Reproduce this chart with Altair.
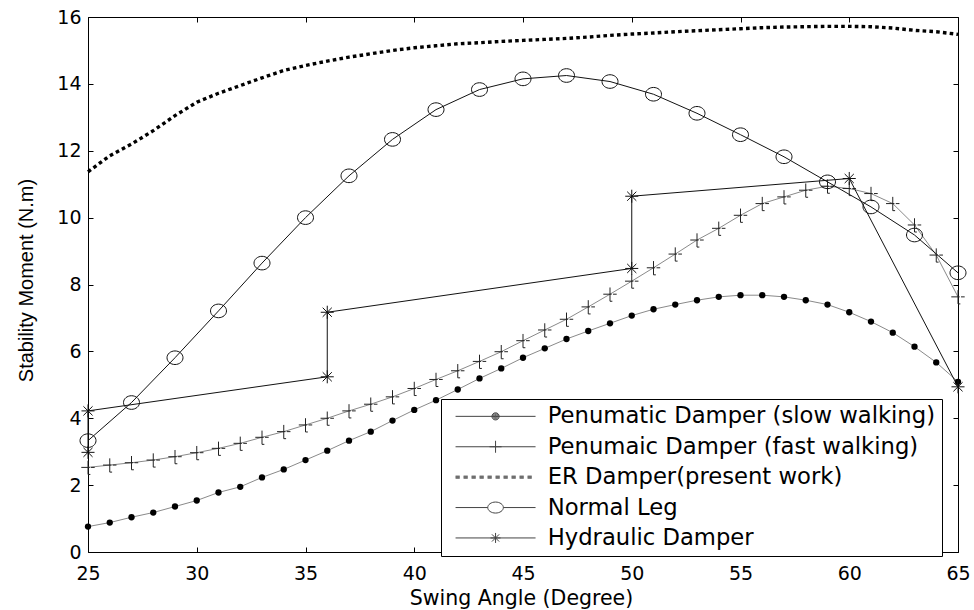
import altair as alt
import pandas as pd

# ---------------- data ----------------
angles = list(range(25, 66))
slow = [0.76, 0.88, 1.04, 1.18, 1.36, 1.54, 1.78, 1.95, 2.23, 2.47, 2.75, 3.03, 3.33, 3.60,
        3.93, 4.25, 4.54, 4.86, 5.19, 5.49, 5.81, 6.09, 6.37, 6.61, 6.84, 7.07, 7.26, 7.40,
        7.53, 7.63, 7.68, 7.68, 7.63, 7.53, 7.40, 7.17, 6.89, 6.56, 6.14, 5.67, 5.09]
fast = [2.53, 2.60, 2.67, 2.75, 2.85, 2.97, 3.10, 3.25, 3.43, 3.60, 3.80, 4.00, 4.22, 4.42,
        4.64, 4.89, 5.16, 5.42, 5.70, 5.99, 6.32, 6.64, 6.96, 7.33, 7.71, 8.10, 8.50, 8.91,
        9.33, 9.68, 10.07, 10.42, 10.62, 10.82, 10.94, 10.87, 10.72, 10.42, 9.78, 8.88, 7.63]
er = [11.37, 11.85, 12.20, 12.60, 13.05, 13.45, 13.72, 13.95, 14.18, 14.40, 14.55, 14.68,
      14.80, 14.90, 15.00, 15.08, 15.14, 15.20, 15.23, 15.27, 15.30, 15.33, 15.36, 15.40,
      15.45, 15.49, 15.52, 15.56, 15.59, 15.62, 15.65, 15.68, 15.70, 15.71, 15.72, 15.72,
      15.71, 15.67, 15.60, 15.56, 15.48]
normal_angles = list(range(25, 66, 2))
normal = [3.33, 4.47, 5.81, 7.21, 8.64, 10.00, 11.25, 12.34, 13.23, 13.83, 14.15, 14.25,
          14.07, 13.69, 13.12, 12.48, 11.82, 11.07, 10.32, 9.48, 8.35]
hyd_angles = [25, 25, 36, 36, 50, 50, 60, 65]
hyd = [2.98, 4.22, 5.24, 7.17, 8.48, 10.64, 11.17, 4.94]

series_names = ["Penumatic Damper (slow walking)", "Penumaic Damper (fast walking)",
                "ER Damper(present work)", "Normal Leg", "Hydraulic Damper"]
x_ticks = [25, 30, 35, 40, 45, 50, 55, 60, 65]
y_ticks = [0, 2, 4, 6, 8, 10, 12, 14, 16]

rows = []
for name, xs, ys in [(series_names[0], angles, slow), (series_names[1], angles, fast),
                     (series_names[2], angles, er), (series_names[3], normal_angles, normal),
                     (series_names[4], hyd_angles, hyd)]:
    for i, (a, v) in enumerate(zip(xs, ys)):
        rows.append({"angle": a, "moment": v, "series": name, "idx": i})
df = pd.DataFrame(rows)

# ---------------- symbol paths ----------------
def circ(cx, cy, rx, ry):
    return (f"M{cx - rx:.3f},{cy:.3f}a{rx:.3f},{ry:.3f} 0 1,0 {2 * rx:.3f},0"
            f"a{rx:.3f},{ry:.3f} 0 1,0 {-2 * rx:.3f},0")

ellipse_marker = circ(0, 0, 1, 0.85)
plus_marker = "M-1,0L0.25,0M0.45,0L1,0M0,-1L0,1.05L0.35,1.05"
star_marker = "M-1,0L1,0M0,-1L0,1M-0.7,-0.7L0.7,0.7M-0.7,0.7L0.7,-0.7"

L0, L1, MC = -0.28, 7.72, 3.72
base_line = f"M{L0},0L{L1},0"
lg_slow = base_line + "".join(circ(MC, 0, r, r) for r in [0.36, 0.27, 0.18, 0.09])
lg_fast = base_line + f"M{MC - 0.6:.2f},0L{MC + 0.6:.2f},0M{MC},-0.6L{MC},0.6"
lg_er = ""
for k in range(10):
    x0 = L0 + k * 0.8
    for yy in (-0.1, 0, 0.1):
        lg_er += f"M{x0:.2f},{yy}L{x0 + 0.42:.2f},{yy}"
lg_normal = f"M{L0},0L{MC - 0.78:.2f},0M{MC + 0.78:.2f},0L{L1},0" + circ(MC, 0, 0.78, 0.55)
lg_hyd = base_line + (f"M{MC - 0.5:.2f},0L{MC + 0.5:.2f},0M{MC},-0.5L{MC},0.5"
                      f"M{MC - 0.36:.2f},-0.36L{MC + 0.36:.2f},0.36M{MC - 0.36:.2f},0.36L{MC + 0.36:.2f},-0.36")
legend_paths = [lg_slow, lg_fast, lg_er, lg_normal, lg_hyd]

# ---------------- scales / axes ----------------
x_scale = alt.Scale(domain=[25, 65], nice=False, zero=False)
y_scale = alt.Scale(domain=[0, 16], nice=False, zero=False)

x_axis = alt.Axis(values=x_ticks, format="d", title="Swing Angle (Degree)", orient="bottom",
                  offset=-5, tickSize=5, domain=False, grid=False, tickColor="black",
                  labelFont="DejaVu Sans", labelFontSize=19, labelColor="black",
                  labelPadding=12.5, labelFlush=False, labelOverlap=False,
                  titleFont="DejaVu Sans", titleFontSize=20.5, titleFontWeight="normal",
                  titleColor="black", titleX=433, titleY=57, titleBaseline="alphabetic",
                  titleAlign="center")
y_axis = alt.Axis(values=y_ticks, format="d", title="Stability Moment (N.m)", orient="left",
                  offset=-5, tickSize=5, domain=False, grid=False, tickColor="black",
                  labelFont="DejaVu Sans", labelFontSize=19, labelColor="black",
                  labelPadding=7, labelFlush=False, labelOverlap=False,
                  titleFont="Liberation Sans", titleFontSize=20, titleFontWeight="normal",
                  titleColor="black", titleX=-67, titleY=263, titleBaseline="middle",
                  titleAlign="center", titleAngle=270)
top_axis = alt.Axis(values=x_ticks, orient="top", labels=False, title=None, offset=-5,
                    tickSize=5, domain=False, grid=False, tickColor="black")
right_axis = alt.Axis(values=y_ticks, orient="right", labels=False, title=None, offset=-5,
                      tickSize=5, domain=False, grid=False, tickColor="black")


def enc(xa=None, ya=None):
    return dict(
        x=alt.X("angle:Q", scale=x_scale, axis=xa),
        y=alt.Y("moment:Q", scale=y_scale, axis=ya),
    )


def sub(name):
    return alt.Chart(df).transform_filter(alt.datum.series == name)


layers = []
# lines
layers.append(sub(series_names[2]).mark_line(color="black", strokeWidth=3.4, strokeDash=[3.6, 3.2],
                                              strokeCap="butt").encode(order="idx:Q", **enc(x_axis, y_axis)))
layers.append(sub(series_names[0]).mark_line(color="#8a8a8a", strokeWidth=1).encode(order="idx:Q", **enc()))
layers.append(sub(series_names[1]).mark_line(color="#8a8a8a", strokeWidth=1).encode(order="idx:Q", **enc()))
layers.append(sub(series_names[3]).mark_line(color="#111111", strokeWidth=1).encode(order="idx:Q", **enc()))
layers.append(sub(series_names[4]).mark_line(color="#111111", strokeWidth=1).encode(order="idx:Q", **enc()))
# markers
layers.append(sub(series_names[0]).mark_point(shape="circle", filled=True, color="black", size=40,
                                               opacity=1).encode(**enc()))
layers.append(sub(series_names[1]).mark_point(shape=plus_marker, filled=False, color="#222222",
                                               strokeWidth=1, size=180, opacity=1).encode(**enc()))
layers.append(sub(series_names[3]).mark_point(shape=ellipse_marker, filled=False, color="#111111",
                                               strokeWidth=1, size=256, opacity=1).encode(**enc()))
layers.append(sub(series_names[4]).mark_point(shape=star_marker, filled=False, color="#111111",
                                               strokeWidth=1, size=170, opacity=1).encode(**enc()))
# legend carrier (invisible points) + top/right tick axes
legend = alt.Legend(orient="none", legendX=353, legendY=382, title=None, symbolSize=400,
                    symbolOpacity=1, symbolStrokeColor="#444444", symbolFillColor="transparent",
                    symbolStrokeWidth=1, labelFont="DejaVu Sans", labelFontSize=22.7,
                    labelColor="black", labelOffset=78, labelLimit=600, rowPadding=6.4,
                    padding=6, strokeColor="black", fillColor="white", cornerRadius=0)
layers.append(alt.Chart(df).mark_point(opacity=0, filled=False).encode(
    shape=alt.Shape("series:N", scale=alt.Scale(domain=series_names, range=legend_paths),
                    legend=legend, sort=series_names),
    **enc(top_axis, right_axis)))

chart = alt.layer(*layers).resolve_axis(x="independent", y="independent").properties(
    width=870, height=535,
    autosize=alt.AutoSizeParams(type="none"),
    padding={"left": 88, "top": 17, "right": 16, "bottom": 58},
    background="white",
).configure_view(stroke="black", strokeWidth=1)

chart.save("out.html", embed_options={"renderer": "svg", "actions": False})
